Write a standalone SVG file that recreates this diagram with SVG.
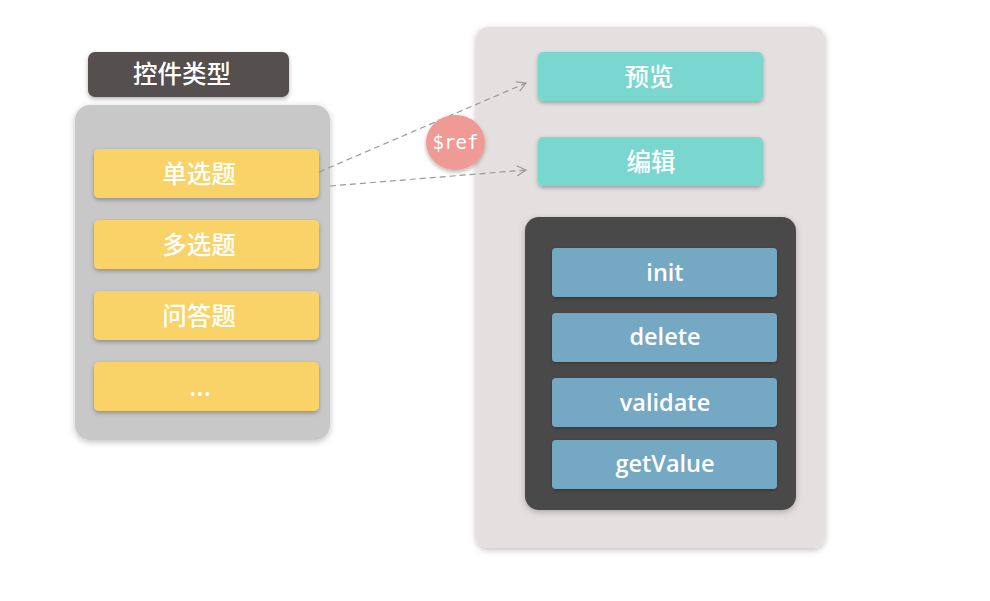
<svg xmlns="http://www.w3.org/2000/svg" width="990" height="601" viewBox="0 0 990 601">
<defs>
<filter id="sh" x="-10%" y="-20%" width="120%" height="150%"><feDropShadow dx="0" dy="2" stdDeviation="2" flood-color="#000" flood-opacity="0.3"/></filter>
<filter id="shs" x="-10%" y="-20%" width="120%" height="150%"><feDropShadow dx="0" dy="1" stdDeviation="1.5" flood-color="#000" flood-opacity="0.3"/></filter>
<filter id="shl" x="-10%" y="-10%" width="120%" height="120%"><feDropShadow dx="0" dy="2" stdDeviation="3" flood-color="#000" flood-opacity="0.25"/></filter>
<marker id="arr" markerWidth="12" markerHeight="12" refX="10" refY="6" orient="auto" markerUnits="userSpaceOnUse"><path d="M1,1 L10,6 L1,11" fill="none" stroke="#999" stroke-width="1.2"/></marker>
</defs>
<style>
.cn{font-family:"Noto Sans CJK SC",sans-serif;fill:#fff;text-anchor:middle;font-size:24.5px;font-weight:500}
.en{font-family:"Open Sans","Noto Sans",sans-serif;fill:#fff;text-anchor:middle;font-size:23.5px;font-weight:600}
.yel{fill:#f9d367}
.teal{fill:#79d7cf}
.blue{fill:#74a9c3}
.conn{stroke:#999;stroke-width:1.2;stroke-dasharray:6,4;fill:none}
</style>
<rect width="990" height="601" fill="#fff"/>
<g id="left-panel"><rect x="75" y="105" width="255" height="335" rx="15" fill="#c8c8c8" filter="url(#shl)"/></g>
<g id="title"><rect x="88" y="52" width="201" height="45" rx="7" fill="#555050" filter="url(#sh)"/><text class="cn" x="182" y="83" font-weight="700">控件类型</text></g>
<g id="n-single"><rect class="yel" x="94" y="149" width="225" height="49" rx="5" filter="url(#sh)"/><text class="cn" x="199" y="183">单选题</text></g>
<g id="n-multi"><rect class="yel" x="94" y="220" width="225" height="49" rx="5" filter="url(#sh)"/><text class="cn" x="199" y="254">多选题</text></g>
<g id="n-qa"><rect class="yel" x="94" y="291" width="225" height="49" rx="5" filter="url(#sh)"/><text class="cn" x="199" y="325">问答题</text></g>
<g id="n-more"><rect class="yel" x="94" y="362" width="225" height="49" rx="5" filter="url(#sh)"/><text class="cn" x="200" y="396">...</text></g>
<g id="right-panel"><rect x="476" y="27" width="349" height="521" rx="12" fill="#e4e0df" filter="url(#shl)"/></g>
<g id="n-preview"><rect class="teal" x="538" y="52" width="225" height="49" rx="5" filter="url(#sh)"/><text class="cn" x="649" y="86">预览</text></g>
<g id="n-edit"><rect class="teal" x="538" y="137" width="225" height="49" rx="5" filter="url(#sh)"/><text class="cn" x="651" y="171">编辑</text></g>
<g id="methods"><rect x="525" y="217" width="271" height="293" rx="14" fill="#4a4a4a" filter="url(#shl)"/></g>
<g id="n-init"><rect class="blue" x="552" y="248" width="225" height="49" rx="4" filter="url(#shs)"/><text class="en" x="665" y="281">init</text></g>
<g id="n-delete"><rect class="blue" x="552" y="313" width="225" height="49" rx="4" filter="url(#shs)"/><text class="en" x="665" y="345">delete</text></g>
<g id="n-validate"><rect class="blue" x="552" y="378" width="225" height="49" rx="4" filter="url(#shs)"/><text class="en" x="665" y="411">validate</text></g>
<g id="n-getvalue"><rect class="blue" x="552" y="440" width="225" height="49" rx="4" filter="url(#shs)"/><text class="en" x="665" y="472">getValue</text></g>
<g id="connectors">
<line class="conn" x1="319" y1="172" x2="526" y2="83" marker-end="url(#arr)"/>
<line class="conn" x1="330" y1="186" x2="526" y2="170" marker-end="url(#arr)"/>
</g>
<g id="ref"><ellipse cx="455.5" cy="142.5" rx="29.5" ry="27.5" fill="#ef9a94" filter="url(#sh)"/><text x="455.5" y="149" font-family="'DejaVu Sans Mono','Liberation Mono',monospace" font-size="19" fill="#fff" text-anchor="middle">$ref</text></g>
</svg>
